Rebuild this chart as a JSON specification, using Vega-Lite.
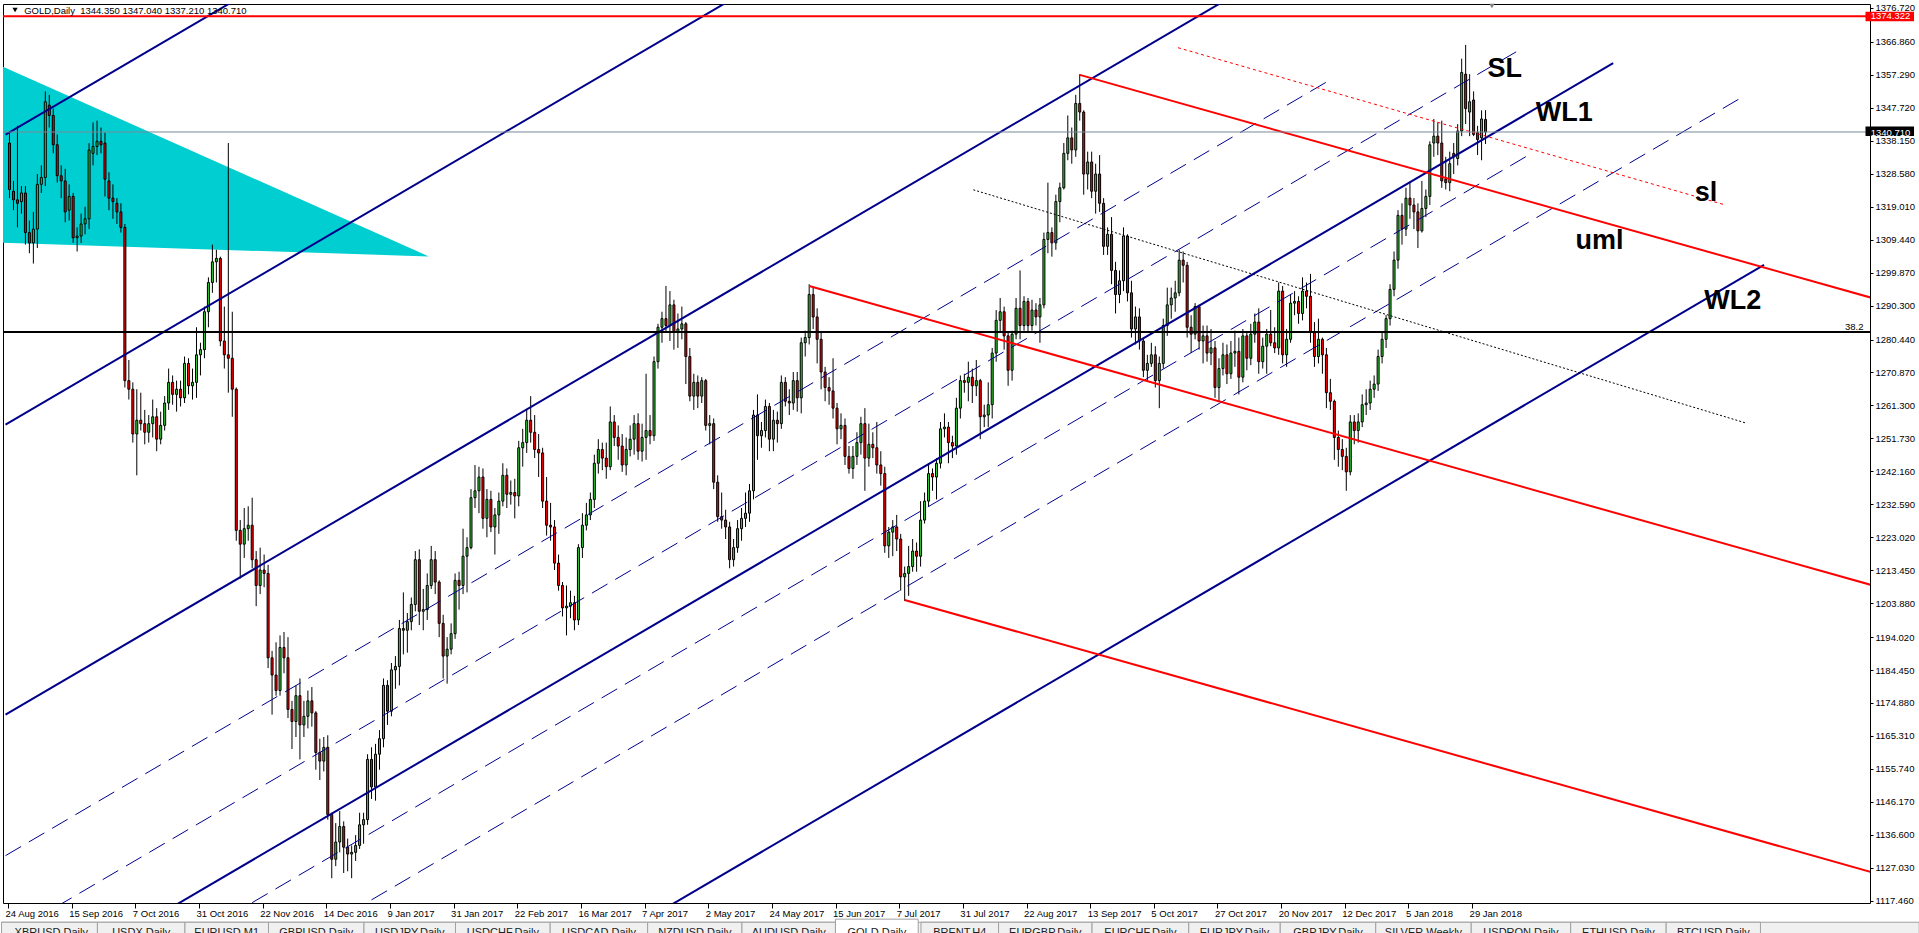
{
  "$schema": "https://vega.github.io/schema/vega-lite/v6.json",
  "width": 1867,
  "height": 899,
  "autosize": "none",
  "padding": {"left": 3, "top": 4, "right": 49, "bottom": 30},
  "background": "white",
  "config": {"view": {"stroke": "black", "strokeWidth": 1}, "font": "Liberation Sans"},
  "datasets": {
    "band": [{"i": -2, "i2": 480, "p": 1111.2, "p2": 1095}],
    "tabs": [
      {"n": "XBRUSD,Daily", "i": -2, "i2": 22.1, "p": 1111.2, "p2": 1095, "act": 0},
      {"n": "USDX,Daily", "i": 22.1, "i2": 44.1, "p": 1111.2, "p2": 1095, "act": 0},
      {"n": "EURUSD,M1", "i": 44.1, "i2": 65.1, "p": 1111.2, "p2": 1095, "act": 0},
      {"n": "GBPUSD,Daily", "i": 65.1, "i2": 89.1, "p": 1111.2, "p2": 1095, "act": 0},
      {"n": "USDJPY,Daily", "i": 89.1, "i2": 112.1, "p": 1111.2, "p2": 1095, "act": 0},
      {"n": "USDCHF,Daily", "i": 112.1, "i2": 135.9, "p": 1111.2, "p2": 1095, "act": 0},
      {"n": "USDCAD,Daily", "i": 135.9, "i2": 160.4, "p": 1111.2, "p2": 1095, "act": 0},
      {"n": "NZDUSD,Daily", "i": 160.4, "i2": 184.1, "p": 1111.2, "p2": 1095, "act": 0},
      {"n": "AUDUSD,Daily", "i": 184.1, "i2": 207.6, "p": 1111.2, "p2": 1095, "act": 0},
      {"n": "GOLD,Daily", "i": 207.6, "i2": 228.4, "p": 1112.1, "p2": 1095, "act": 1},
      {"n": "BRENT,H4", "i": 229.1, "i2": 248.6, "p": 1111.2, "p2": 1095, "act": 0},
      {"n": "EURGBP,Daily", "i": 248.6, "i2": 272.1, "p": 1111.2, "p2": 1095, "act": 0},
      {"n": "EURCHF,Daily", "i": 272.1, "i2": 296.4, "p": 1111.2, "p2": 1095, "act": 0},
      {"n": "EURJPY,Daily", "i": 296.4, "i2": 319.4, "p": 1111.2, "p2": 1095, "act": 0},
      {"n": "GBPJPY,Daily", "i": 319.4, "i2": 343.4, "p": 1111.2, "p2": 1095, "act": 0},
      {"n": "SILVER,Weekly", "i": 343.4, "i2": 367.4, "p": 1111.2, "p2": 1095, "act": 0},
      {"n": "USDRON,Daily", "i": 367.4, "i2": 392.4, "p": 1111.2, "p2": 1095, "act": 0},
      {"n": "ETHUSD,Daily", "i": 392.4, "i2": 416.4, "p": 1111.2, "p2": 1095, "act": 0},
      {"n": "BTCUSD,Daily", "i": 416.4, "i2": 440.1, "p": 1111.2, "p2": 1095, "act": 0}
    ],
    "tabnames": [
      {"n": "XBRUSD,Daily", "i": 10.5, "p": 1109.8, "act": 0},
      {"n": "USDX,Daily", "i": 33.1, "p": 1109.8, "act": 0},
      {"n": "EURUSD,M1", "i": 54.6, "p": 1109.8, "act": 0},
      {"n": "GBPUSD,Daily", "i": 77.1, "p": 1109.8, "act": 0},
      {"n": "USDJPY,Daily", "i": 100.6, "p": 1109.8, "act": 0},
      {"n": "USDCHF,Daily", "i": 124.0, "p": 1109.8, "act": 0},
      {"n": "USDCAD,Daily", "i": 148.15, "p": 1109.8, "act": 0},
      {"n": "NZDUSD,Daily", "i": 172.25, "p": 1109.8, "act": 0},
      {"n": "AUDUSD,Daily", "i": 195.85, "p": 1109.8, "act": 0},
      {"n": "GOLD,Daily", "i": 218.0, "p": 1109.8, "act": 1},
      {"n": "BRENT,H4", "i": 238.85, "p": 1109.8, "act": 0},
      {"n": "EURGBP,Daily", "i": 260.35, "p": 1109.8, "act": 0},
      {"n": "EURCHF,Daily", "i": 284.25, "p": 1109.8, "act": 0},
      {"n": "EURJPY,Daily", "i": 307.9, "p": 1109.8, "act": 0},
      {"n": "GBPJPY,Daily", "i": 331.4, "p": 1109.8, "act": 0},
      {"n": "SILVER,Weekly", "i": 355.4, "p": 1109.8, "act": 0},
      {"n": "USDRON,Daily", "i": 379.9, "p": 1109.8, "act": 0},
      {"n": "ETHUSD,Daily", "i": 404.4, "p": 1109.8, "act": 0},
      {"n": "BTCUSD,Daily", "i": 428.25, "p": 1109.8, "act": 0}
    ],
    "zone": [
      {"i": -2, "p": 1359.85, "p2": 1308.55},
      {"i": 105.4, "p": 1304.57, "p2": 1304.57}
    ],
    "candles": [
      {"i":0,"o":1337.5,"h":1340.5,"l":1321.5,"c":1324.0},
      {"i":1,"o":1323.5,"h":1326.5,"l":1318.0,"c":1321.0},
      {"i":2,"o":1321.0,"h":1342.5,"l":1313.0,"c":1320.0},
      {"i":3,"o":1320.5,"h":1325.0,"l":1317.0,"c":1323.0},
      {"i":4,"o":1323.0,"h":1325.0,"l":1308.0,"c":1311.5},
      {"i":5,"o":1311.5,"h":1315.0,"l":1305.5,"c":1308.5},
      {"i":6,"o":1308.5,"h":1317.5,"l":1302.5,"c":1312.5},
      {"i":7,"o":1312.5,"h":1328.5,"l":1307.0,"c":1325.5},
      {"i":8,"o":1325.5,"h":1331.0,"l":1323.0,"c":1327.5},
      {"i":9,"o":1327.5,"h":1352.5,"l":1325.0,"c":1349.5},
      {"i":10,"o":1348.5,"h":1351.5,"l":1342.0,"c":1345.5},
      {"i":11,"o":1345.5,"h":1347.5,"l":1334.5,"c":1337.0},
      {"i":12,"o":1337.0,"h":1340.0,"l":1326.0,"c":1328.0},
      {"i":13,"o":1328.0,"h":1331.0,"l":1321.5,"c":1326.5},
      {"i":14,"o":1326.5,"h":1330.0,"l":1314.5,"c":1317.5},
      {"i":15,"o":1318.0,"h":1325.5,"l":1315.0,"c":1322.0},
      {"i":16,"o":1322.0,"h":1323.0,"l":1308.5,"c":1310.0},
      {"i":17,"o":1310.0,"h":1313.0,"l":1306.0,"c":1310.5},
      {"i":18,"o":1310.5,"h":1317.0,"l":1308.5,"c":1314.0},
      {"i":19,"o":1314.0,"h":1319.0,"l":1311.0,"c":1315.5},
      {"i":20,"o":1315.5,"h":1337.5,"l":1312.5,"c":1335.5},
      {"i":21,"o":1334.5,"h":1343.5,"l":1331.0,"c":1336.5},
      {"i":22,"o":1336.5,"h":1344.0,"l":1334.0,"c":1338.0},
      {"i":23,"o":1338.0,"h":1342.0,"l":1334.5,"c":1337.0},
      {"i":24,"o":1337.5,"h":1340.5,"l":1322.0,"c":1327.0},
      {"i":25,"o":1326.5,"h":1329.0,"l":1318.0,"c":1321.5},
      {"i":26,"o":1321.5,"h":1325.5,"l":1315.5,"c":1320.5},
      {"i":27,"o":1320.0,"h":1321.5,"l":1314.0,"c":1317.5},
      {"i":28,"o":1317.5,"h":1320.0,"l":1311.5,"c":1313.0},
      {"i":29,"o":1313.0,"h":1314.0,"l":1266.5,"c":1268.5},
      {"i":30,"o":1268.5,"h":1274.5,"l":1263.0,"c":1266.0},
      {"i":31,"o":1266.0,"h":1268.0,"l":1250.5,"c":1253.0},
      {"i":32,"o":1253.0,"h":1266.0,"l":1241.0,"c":1257.0},
      {"i":33,"o":1257.0,"h":1265.0,"l":1254.0,"c":1256.0},
      {"i":34,"o":1256.0,"h":1260.0,"l":1250.0,"c":1253.5},
      {"i":35,"o":1253.5,"h":1258.5,"l":1250.5,"c":1256.0},
      {"i":36,"o":1256.0,"h":1263.0,"l":1252.0,"c":1258.0},
      {"i":37,"o":1258.0,"h":1260.5,"l":1248.0,"c":1251.5},
      {"i":38,"o":1251.5,"h":1259.5,"l":1250.0,"c":1255.5},
      {"i":39,"o":1255.5,"h":1264.0,"l":1254.0,"c":1262.0},
      {"i":40,"o":1262.0,"h":1272.0,"l":1260.0,"c":1268.0},
      {"i":41,"o":1268.0,"h":1270.0,"l":1261.5,"c":1264.5},
      {"i":42,"o":1264.5,"h":1268.5,"l":1259.5,"c":1266.0},
      {"i":43,"o":1266.0,"h":1268.5,"l":1261.0,"c":1263.5},
      {"i":44,"o":1263.5,"h":1275.5,"l":1262.0,"c":1273.5},
      {"i":45,"o":1273.5,"h":1275.0,"l":1264.5,"c":1267.0},
      {"i":46,"o":1267.0,"h":1272.0,"l":1263.0,"c":1268.0},
      {"i":47,"o":1268.0,"h":1284.0,"l":1263.5,"c":1276.0},
      {"i":48,"o":1276.0,"h":1279.5,"l":1270.0,"c":1277.5},
      {"i":49,"o":1277.5,"h":1290.0,"l":1275.0,"c":1288.5},
      {"i":50,"o":1288.5,"h":1298.5,"l":1284.0,"c":1297.0},
      {"i":51,"o":1297.0,"h":1308.0,"l":1294.0,"c":1303.0},
      {"i":52,"o":1303.0,"h":1306.5,"l":1297.0,"c":1304.0},
      {"i":53,"o":1304.0,"h":1304.5,"l":1278.5,"c":1280.0},
      {"i":54,"o":1280.0,"h":1290.0,"l":1272.0,"c":1276.0},
      {"i":55,"o":1276.0,"h":1337.5,"l":1265.0,"c":1275.0},
      {"i":56,"o":1275.0,"h":1288.5,"l":1258.0,"c":1266.0},
      {"i":57,"o":1266.0,"h":1266.5,"l":1222.0,"c":1225.0},
      {"i":58,"o":1225.0,"h":1228.0,"l":1211.0,"c":1221.0},
      {"i":59,"o":1221.0,"h":1231.5,"l":1217.0,"c":1225.5},
      {"i":60,"o":1225.5,"h":1232.0,"l":1222.0,"c":1226.5},
      {"i":61,"o":1226.5,"h":1234.5,"l":1214.0,"c":1216.5},
      {"i":62,"o":1216.5,"h":1219.0,"l":1203.0,"c":1209.0},
      {"i":63,"o":1209.0,"h":1220.0,"l":1206.5,"c":1213.5},
      {"i":64,"o":1213.5,"h":1218.0,"l":1208.5,"c":1212.5},
      {"i":65,"o":1212.5,"h":1215.0,"l":1185.0,"c":1188.0},
      {"i":66,"o":1188.0,"h":1190.0,"l":1171.5,"c":1183.0},
      {"i":67,"o":1183.0,"h":1192.5,"l":1177.0,"c":1178.5},
      {"i":68,"o":1178.5,"h":1194.5,"l":1177.0,"c":1191.0},
      {"i":69,"o":1191.0,"h":1195.5,"l":1183.5,"c":1188.0},
      {"i":70,"o":1188.0,"h":1194.0,"l":1170.5,"c":1173.0},
      {"i":71,"o":1173.0,"h":1175.5,"l":1161.5,"c":1169.5},
      {"i":72,"o":1169.5,"h":1180.0,"l":1165.0,"c":1177.0},
      {"i":73,"o":1177.0,"h":1182.0,"l":1158.5,"c":1168.5},
      {"i":74,"o":1168.5,"h":1175.5,"l":1165.0,"c":1171.0},
      {"i":75,"o":1171.0,"h":1178.5,"l":1167.5,"c":1175.5},
      {"i":76,"o":1175.5,"h":1179.5,"l":1168.0,"c":1172.0},
      {"i":77,"o":1172.0,"h":1172.5,"l":1155.5,"c":1160.5},
      {"i":78,"o":1160.5,"h":1164.5,"l":1152.5,"c":1158.0},
      {"i":79,"o":1158.0,"h":1165.0,"l":1155.0,"c":1162.0},
      {"i":80,"o":1162.0,"h":1165.5,"l":1141.0,"c":1142.5},
      {"i":81,"o":1142.5,"h":1143.0,"l":1124.0,"c":1129.5},
      {"i":82,"o":1129.5,"h":1140.0,"l":1127.5,"c":1134.5},
      {"i":83,"o":1134.5,"h":1143.5,"l":1131.5,"c":1139.0},
      {"i":84,"o":1139.0,"h":1140.5,"l":1125.5,"c":1133.0},
      {"i":85,"o":1133.0,"h":1135.5,"l":1126.0,"c":1131.0},
      {"i":86,"o":1131.0,"h":1133.5,"l":1124.0,"c":1131.5},
      {"i":87,"o":1131.5,"h":1136.5,"l":1129.0,"c":1133.5},
      {"i":88,"o":1133.5,"h":1143.0,"l":1132.5,"c":1139.5},
      {"i":89,"o":1139.5,"h":1143.0,"l":1134.0,"c":1141.0},
      {"i":90,"o":1141.0,"h":1160.0,"l":1139.5,"c":1158.5},
      {"i":91,"o":1158.5,"h":1162.0,"l":1147.0,"c":1150.5},
      {"i":92,"o":1150.5,"h":1163.0,"l":1146.5,"c":1160.0},
      {"i":93,"o":1160.0,"h":1167.0,"l":1155.5,"c":1164.5},
      {"i":94,"o":1164.5,"h":1182.0,"l":1162.0,"c":1180.0},
      {"i":95,"o":1180.0,"h":1181.5,"l":1168.5,"c":1172.5},
      {"i":96,"o":1172.5,"h":1186.5,"l":1171.0,"c":1184.5},
      {"i":97,"o":1184.5,"h":1188.5,"l":1179.0,"c":1185.5},
      {"i":98,"o":1185.5,"h":1199.0,"l":1180.0,"c":1196.5},
      {"i":99,"o":1196.5,"h":1207.0,"l":1189.0,"c":1196.0},
      {"i":100,"o":1196.0,"h":1201.0,"l":1189.5,"c":1198.5},
      {"i":101,"o":1198.5,"h":1205.5,"l":1196.0,"c":1203.5},
      {"i":102,"o":1203.5,"h":1219.0,"l":1201.5,"c":1216.5},
      {"i":103,"o":1216.5,"h":1219.5,"l":1197.5,"c":1201.5},
      {"i":104,"o":1201.5,"h":1208.0,"l":1196.0,"c":1202.0},
      {"i":105,"o":1202.0,"h":1212.5,"l":1199.0,"c":1209.0},
      {"i":106,"o":1209.0,"h":1220.5,"l":1208.0,"c":1216.5},
      {"i":107,"o":1216.5,"h":1219.0,"l":1206.5,"c":1210.0},
      {"i":108,"o":1210.0,"h":1210.5,"l":1194.0,"c":1198.0},
      {"i":109,"o":1198.0,"h":1200.5,"l":1182.0,"c":1188.5},
      {"i":110,"o":1188.5,"h":1194.0,"l":1180.5,"c":1190.5},
      {"i":111,"o":1190.5,"h":1198.0,"l":1189.0,"c":1195.0},
      {"i":112,"o":1195.0,"h":1212.5,"l":1193.5,"c":1210.5},
      {"i":113,"o":1210.5,"h":1213.0,"l":1202.0,"c":1209.0},
      {"i":114,"o":1209.0,"h":1225.5,"l":1206.5,"c":1217.5},
      {"i":115,"o":1217.5,"h":1223.0,"l":1207.0,"c":1220.0},
      {"i":116,"o":1220.0,"h":1237.0,"l":1219.5,"c":1234.5},
      {"i":117,"o":1234.5,"h":1244.0,"l":1231.5,"c":1236.5},
      {"i":118,"o":1236.5,"h":1243.5,"l":1230.0,"c":1240.5},
      {"i":119,"o":1240.5,"h":1243.0,"l":1225.5,"c":1228.5},
      {"i":120,"o":1228.5,"h":1237.0,"l":1223.0,"c":1234.0},
      {"i":121,"o":1234.0,"h":1236.5,"l":1224.5,"c":1226.0},
      {"i":122,"o":1226.0,"h":1231.5,"l":1218.0,"c":1229.5},
      {"i":123,"o":1229.5,"h":1236.0,"l":1224.0,"c":1233.5},
      {"i":124,"o":1233.5,"h":1244.5,"l":1232.0,"c":1241.0},
      {"i":125,"o":1241.0,"h":1243.0,"l":1231.5,"c":1235.5},
      {"i":126,"o":1235.5,"h":1239.5,"l":1232.5,"c":1236.0},
      {"i":127,"o":1236.0,"h":1240.0,"l":1228.5,"c":1235.0},
      {"i":128,"o":1235.0,"h":1251.0,"l":1232.0,"c":1249.0},
      {"i":129,"o":1249.0,"h":1254.5,"l":1243.5,"c":1250.5},
      {"i":130,"o":1250.5,"h":1260.0,"l":1247.5,"c":1257.0},
      {"i":131,"o":1257.0,"h":1264.0,"l":1250.5,"c":1253.5},
      {"i":132,"o":1253.5,"h":1258.5,"l":1246.0,"c":1248.5},
      {"i":133,"o":1248.5,"h":1253.0,"l":1240.5,"c":1247.5},
      {"i":134,"o":1247.5,"h":1249.0,"l":1231.5,"c":1233.5},
      {"i":135,"o":1233.5,"h":1240.5,"l":1223.5,"c":1226.5},
      {"i":136,"o":1226.5,"h":1233.0,"l":1222.0,"c":1226.0},
      {"i":137,"o":1226.0,"h":1228.0,"l":1213.5,"c":1215.5},
      {"i":138,"o":1215.5,"h":1218.0,"l":1207.5,"c":1209.0},
      {"i":139,"o":1209.0,"h":1210.0,"l":1200.0,"c":1202.5},
      {"i":140,"o":1202.5,"h":1209.0,"l":1194.5,"c":1203.0},
      {"i":141,"o":1203.0,"h":1207.5,"l":1199.5,"c":1204.0},
      {"i":142,"o":1204.0,"h":1206.0,"l":1196.0,"c":1199.0},
      {"i":143,"o":1199.0,"h":1221.0,"l":1197.5,"c":1220.0},
      {"i":144,"o":1220.0,"h":1230.0,"l":1217.0,"c":1226.5},
      {"i":145,"o":1226.5,"h":1233.0,"l":1225.0,"c":1229.5},
      {"i":146,"o":1229.5,"h":1236.0,"l":1228.0,"c":1234.0},
      {"i":147,"o":1234.0,"h":1247.0,"l":1231.5,"c":1244.5},
      {"i":148,"o":1244.5,"h":1251.5,"l":1241.5,"c":1248.5},
      {"i":149,"o":1248.5,"h":1250.5,"l":1242.5,"c":1246.0},
      {"i":150,"o":1246.0,"h":1250.5,"l":1240.0,"c":1243.5},
      {"i":151,"o":1243.5,"h":1261.0,"l":1242.5,"c":1256.5},
      {"i":152,"o":1256.5,"h":1258.5,"l":1249.5,"c":1252.0},
      {"i":153,"o":1252.0,"h":1255.5,"l":1245.5,"c":1249.5},
      {"i":154,"o":1249.5,"h":1253.0,"l":1242.0,"c":1244.0},
      {"i":155,"o":1244.0,"h":1252.0,"l":1241.0,"c":1248.5},
      {"i":156,"o":1248.5,"h":1255.5,"l":1246.5,"c":1251.5},
      {"i":157,"o":1251.5,"h":1258.5,"l":1247.0,"c":1256.0},
      {"i":158,"o":1256.0,"h":1259.0,"l":1245.5,"c":1248.0},
      {"i":159,"o":1248.0,"h":1256.0,"l":1245.0,"c":1252.0},
      {"i":160,"o":1252.0,"h":1270.5,"l":1245.5,"c":1254.0},
      {"i":161,"o":1254.0,"h":1258.5,"l":1250.0,"c":1252.5},
      {"i":162,"o":1252.5,"h":1275.5,"l":1251.0,"c":1274.0},
      {"i":163,"o":1274.0,"h":1285.0,"l":1272.0,"c":1284.0},
      {"i":164,"o":1284.0,"h":1288.5,"l":1279.5,"c":1286.5},
      {"i":165,"o":1286.5,"h":1296.0,"l":1282.5,"c":1284.5},
      {"i":166,"o":1284.5,"h":1294.5,"l":1280.0,"c":1290.5},
      {"i":167,"o":1290.5,"h":1292.0,"l":1277.5,"c":1282.5},
      {"i":168,"o":1282.5,"h":1288.0,"l":1278.0,"c":1283.5},
      {"i":169,"o":1283.5,"h":1290.0,"l":1280.5,"c":1285.0},
      {"i":170,"o":1285.0,"h":1285.5,"l":1267.5,"c":1275.5},
      {"i":171,"o":1275.5,"h":1278.0,"l":1262.5,"c":1264.0},
      {"i":172,"o":1264.0,"h":1270.5,"l":1260.0,"c":1268.0},
      {"i":173,"o":1268.0,"h":1270.0,"l":1260.5,"c":1264.0},
      {"i":174,"o":1264.0,"h":1269.5,"l":1262.0,"c":1268.5},
      {"i":175,"o":1268.5,"h":1269.0,"l":1254.0,"c":1255.5},
      {"i":176,"o":1255.5,"h":1258.5,"l":1250.0,"c":1256.0},
      {"i":177,"o":1256.0,"h":1257.5,"l":1237.0,"c":1239.0},
      {"i":178,"o":1239.0,"h":1241.0,"l":1227.5,"c":1229.0},
      {"i":179,"o":1229.0,"h":1236.0,"l":1225.5,"c":1228.0},
      {"i":180,"o":1228.0,"h":1231.0,"l":1222.5,"c":1226.0},
      {"i":181,"o":1226.0,"h":1227.5,"l":1214.0,"c":1216.5},
      {"i":182,"o":1216.5,"h":1222.5,"l":1214.5,"c":1220.0},
      {"i":183,"o":1220.0,"h":1228.0,"l":1218.5,"c":1225.5},
      {"i":184,"o":1225.5,"h":1231.5,"l":1222.0,"c":1228.5},
      {"i":185,"o":1228.5,"h":1236.0,"l":1226.0,"c":1230.0},
      {"i":186,"o":1230.0,"h":1238.5,"l":1227.5,"c":1236.5},
      {"i":187,"o":1236.5,"h":1260.0,"l":1234.0,"c":1258.5},
      {"i":188,"o":1258.5,"h":1264.5,"l":1245.5,"c":1252.5},
      {"i":189,"o":1252.5,"h":1256.5,"l":1249.0,"c":1254.0},
      {"i":190,"o":1254.0,"h":1263.0,"l":1252.0,"c":1261.0},
      {"i":191,"o":1261.0,"h":1262.0,"l":1248.0,"c":1251.5},
      {"i":192,"o":1251.5,"h":1260.0,"l":1248.0,"c":1257.0},
      {"i":193,"o":1257.0,"h":1259.5,"l":1250.5,"c":1256.0},
      {"i":194,"o":1256.0,"h":1270.0,"l":1254.5,"c":1268.0},
      {"i":195,"o":1268.0,"h":1269.5,"l":1261.0,"c":1262.5},
      {"i":196,"o":1262.5,"h":1266.0,"l":1258.5,"c":1262.0},
      {"i":197,"o":1262.0,"h":1271.0,"l":1260.0,"c":1268.5},
      {"i":198,"o":1268.5,"h":1271.0,"l":1259.5,"c":1263.5},
      {"i":199,"o":1263.5,"h":1281.0,"l":1259.0,"c":1279.5},
      {"i":200,"o":1279.5,"h":1283.0,"l":1275.5,"c":1281.0},
      {"i":201,"o":1281.0,"h":1296.5,"l":1279.0,"c":1293.5},
      {"i":202,"o":1293.5,"h":1295.5,"l":1283.5,"c":1287.0},
      {"i":203,"o":1287.0,"h":1289.5,"l":1273.5,"c":1280.5},
      {"i":204,"o":1280.5,"h":1282.5,"l":1266.0,"c":1271.0},
      {"i":205,"o":1271.0,"h":1272.5,"l":1262.5,"c":1266.5},
      {"i":206,"o":1266.5,"h":1269.5,"l":1261.5,"c":1265.5},
      {"i":207,"o":1265.5,"h":1275.0,"l":1257.5,"c":1260.5},
      {"i":208,"o":1260.5,"h":1262.0,"l":1250.0,"c":1254.5},
      {"i":209,"o":1254.5,"h":1259.0,"l":1251.5,"c":1255.5},
      {"i":210,"o":1255.5,"h":1257.5,"l":1244.0,"c":1246.5},
      {"i":211,"o":1246.5,"h":1249.5,"l":1241.5,"c":1243.0},
      {"i":212,"o":1243.0,"h":1249.5,"l":1240.0,"c":1246.5},
      {"i":213,"o":1246.5,"h":1253.5,"l":1244.0,"c":1250.5},
      {"i":214,"o":1250.5,"h":1258.0,"l":1247.0,"c":1256.0},
      {"i":215,"o":1256.0,"h":1260.5,"l":1236.5,"c":1246.0},
      {"i":216,"o":1246.0,"h":1256.0,"l":1243.5,"c":1250.0},
      {"i":217,"o":1250.0,"h":1253.5,"l":1246.0,"c":1249.0},
      {"i":218,"o":1249.0,"h":1256.5,"l":1241.5,"c":1244.0},
      {"i":219,"o":1244.0,"h":1248.0,"l":1238.0,"c":1241.5},
      {"i":220,"o":1241.5,"h":1243.5,"l":1218.5,"c":1220.5},
      {"i":221,"o":1220.5,"h":1226.0,"l":1217.0,"c":1224.5},
      {"i":222,"o":1224.5,"h":1228.0,"l":1217.5,"c":1226.0},
      {"i":223,"o":1226.0,"h":1229.5,"l":1219.0,"c":1222.5},
      {"i":224,"o":1222.5,"h":1224.0,"l":1207.5,"c":1211.5},
      {"i":225,"o":1211.5,"h":1214.5,"l":1204.5,"c":1212.5},
      {"i":226,"o":1212.5,"h":1220.5,"l":1206.0,"c":1214.5},
      {"i":227,"o":1214.5,"h":1222.5,"l":1213.0,"c":1219.0},
      {"i":228,"o":1219.0,"h":1221.5,"l":1213.0,"c":1217.5},
      {"i":229,"o":1217.5,"h":1233.5,"l":1214.5,"c":1228.0},
      {"i":230,"o":1228.0,"h":1236.0,"l":1227.0,"c":1233.5},
      {"i":231,"o":1233.5,"h":1244.5,"l":1232.0,"c":1241.5},
      {"i":232,"o":1241.5,"h":1243.0,"l":1236.5,"c":1240.5},
      {"i":233,"o":1240.5,"h":1246.0,"l":1234.0,"c":1244.5},
      {"i":234,"o":1244.5,"h":1256.5,"l":1243.0,"c":1254.5},
      {"i":235,"o":1254.5,"h":1259.0,"l":1252.0,"c":1255.0},
      {"i":236,"o":1255.0,"h":1256.5,"l":1244.5,"c":1250.5},
      {"i":237,"o":1250.5,"h":1252.5,"l":1246.0,"c":1249.5},
      {"i":238,"o":1249.5,"h":1263.5,"l":1247.0,"c":1260.5},
      {"i":239,"o":1260.5,"h":1270.0,"l":1257.5,"c":1268.5},
      {"i":240,"o":1268.5,"h":1270.5,"l":1265.0,"c":1268.0},
      {"i":241,"o":1268.0,"h":1274.0,"l":1262.5,"c":1269.5},
      {"i":242,"o":1269.5,"h":1272.0,"l":1262.0,"c":1267.0},
      {"i":243,"o":1267.0,"h":1274.5,"l":1264.0,"c":1268.5},
      {"i":244,"o":1268.5,"h":1269.0,"l":1251.5,"c":1258.0},
      {"i":245,"o":1258.0,"h":1261.5,"l":1255.0,"c":1258.5},
      {"i":246,"o":1258.5,"h":1268.0,"l":1255.0,"c":1261.5},
      {"i":247,"o":1261.5,"h":1278.0,"l":1257.5,"c":1276.5},
      {"i":248,"o":1276.5,"h":1289.0,"l":1274.0,"c":1286.0},
      {"i":249,"o":1286.0,"h":1292.5,"l":1282.5,"c":1288.5},
      {"i":250,"o":1288.5,"h":1290.0,"l":1277.5,"c":1281.5},
      {"i":251,"o":1281.5,"h":1282.5,"l":1267.0,"c":1271.5},
      {"i":252,"o":1271.5,"h":1283.0,"l":1268.5,"c":1282.0},
      {"i":253,"o":1282.0,"h":1292.5,"l":1280.5,"c":1289.5},
      {"i":254,"o":1289.5,"h":1300.5,"l":1280.5,"c":1284.5},
      {"i":255,"o":1284.5,"h":1293.0,"l":1283.0,"c":1291.5},
      {"i":256,"o":1291.5,"h":1292.5,"l":1282.5,"c":1284.5},
      {"i":257,"o":1284.5,"h":1292.0,"l":1283.0,"c":1289.0},
      {"i":258,"o":1289.0,"h":1291.0,"l":1284.5,"c":1287.0},
      {"i":259,"o":1287.0,"h":1292.5,"l":1279.5,"c":1290.5},
      {"i":260,"o":1290.5,"h":1311.5,"l":1289.5,"c":1309.5},
      {"i":261,"o":1309.5,"h":1326.0,"l":1305.5,"c":1311.5},
      {"i":262,"o":1311.5,"h":1313.0,"l":1304.5,"c":1308.5},
      {"i":263,"o":1308.5,"h":1322.5,"l":1306.5,"c":1320.5},
      {"i":264,"o":1320.5,"h":1326.0,"l":1314.5,"c":1324.5},
      {"i":265,"o":1324.5,"h":1337.5,"l":1324.0,"c":1334.5},
      {"i":266,"o":1334.5,"h":1345.5,"l":1332.5,"c":1339.0},
      {"i":267,"o":1339.0,"h":1342.0,"l":1331.5,"c":1335.5},
      {"i":268,"o":1335.5,"h":1351.5,"l":1333.5,"c":1349.0},
      {"i":269,"o":1349.0,"h":1357.5,"l":1344.0,"c":1346.5},
      {"i":270,"o":1346.5,"h":1347.0,"l":1322.5,"c":1328.5},
      {"i":271,"o":1328.5,"h":1335.0,"l":1324.0,"c":1332.0},
      {"i":272,"o":1332.0,"h":1335.0,"l":1321.5,"c":1323.5},
      {"i":273,"o":1323.5,"h":1331.5,"l":1317.0,"c":1328.5},
      {"i":274,"o":1328.5,"h":1334.0,"l":1317.5,"c":1320.0},
      {"i":275,"o":1320.0,"h":1321.5,"l":1305.0,"c":1307.5},
      {"i":276,"o":1307.5,"h":1313.0,"l":1305.0,"c":1311.0},
      {"i":277,"o":1311.0,"h":1316.0,"l":1296.5,"c":1300.5},
      {"i":278,"o":1300.5,"h":1303.0,"l":1288.0,"c":1293.5},
      {"i":279,"o":1293.5,"h":1300.5,"l":1291.0,"c":1297.5},
      {"i":280,"o":1297.5,"h":1313.0,"l":1294.5,"c":1310.5},
      {"i":281,"o":1310.5,"h":1311.0,"l":1291.5,"c":1294.0},
      {"i":282,"o":1294.0,"h":1297.5,"l":1281.0,"c":1283.5},
      {"i":283,"o":1283.5,"h":1290.0,"l":1279.0,"c":1287.0},
      {"i":284,"o":1287.0,"h":1289.5,"l":1277.5,"c":1280.0},
      {"i":285,"o":1280.0,"h":1281.0,"l":1269.5,"c":1271.5},
      {"i":286,"o":1271.5,"h":1276.0,"l":1268.5,"c":1273.5},
      {"i":287,"o":1273.5,"h":1279.5,"l":1272.5,"c":1276.0},
      {"i":288,"o":1276.0,"h":1278.5,"l":1266.5,"c":1268.5},
      {"i":289,"o":1268.5,"h":1275.5,"l":1260.5,"c":1273.5},
      {"i":290,"o":1273.5,"h":1286.5,"l":1272.0,"c":1284.5},
      {"i":291,"o":1284.5,"h":1295.5,"l":1281.5,"c":1290.5},
      {"i":292,"o":1290.5,"h":1295.5,"l":1286.5,"c":1292.5},
      {"i":293,"o":1292.5,"h":1297.5,"l":1288.5,"c":1294.0},
      {"i":294,"o":1294.0,"h":1306.5,"l":1293.0,"c":1303.5},
      {"i":295,"o":1303.5,"h":1306.0,"l":1297.0,"c":1302.0},
      {"i":296,"o":1302.0,"h":1303.0,"l":1281.0,"c":1284.0},
      {"i":297,"o":1284.0,"h":1287.5,"l":1276.5,"c":1282.0},
      {"i":298,"o":1282.0,"h":1291.0,"l":1280.5,"c":1290.0},
      {"i":299,"o":1290.0,"h":1290.5,"l":1277.5,"c":1280.0},
      {"i":300,"o":1280.0,"h":1284.5,"l":1273.5,"c":1281.5},
      {"i":301,"o":1281.5,"h":1284.5,"l":1274.0,"c":1276.5},
      {"i":302,"o":1276.5,"h":1283.5,"l":1273.0,"c":1278.0},
      {"i":303,"o":1278.0,"h":1280.0,"l":1263.5,"c":1266.5},
      {"i":304,"o":1266.5,"h":1275.0,"l":1262.5,"c":1272.0},
      {"i":305,"o":1272.0,"h":1279.5,"l":1270.0,"c":1276.0},
      {"i":306,"o":1276.0,"h":1279.0,"l":1267.5,"c":1270.5},
      {"i":307,"o":1270.5,"h":1280.0,"l":1269.0,"c":1276.5},
      {"i":308,"o":1276.5,"h":1283.0,"l":1272.5,"c":1277.0},
      {"i":309,"o":1277.0,"h":1281.0,"l":1264.5,"c":1269.5},
      {"i":310,"o":1269.5,"h":1283.5,"l":1268.0,"c":1281.5},
      {"i":311,"o":1281.5,"h":1282.5,"l":1271.5,"c":1275.0},
      {"i":312,"o":1275.0,"h":1285.0,"l":1273.0,"c":1282.0},
      {"i":313,"o":1282.0,"h":1288.0,"l":1279.5,"c":1285.5},
      {"i":314,"o":1285.5,"h":1289.5,"l":1270.5,"c":1274.0},
      {"i":315,"o":1274.0,"h":1281.0,"l":1272.0,"c":1278.5},
      {"i":316,"o":1278.5,"h":1283.5,"l":1270.5,"c":1282.0},
      {"i":317,"o":1282.0,"h":1289.0,"l":1278.5,"c":1279.5},
      {"i":318,"o":1279.5,"h":1284.0,"l":1276.5,"c":1278.0},
      {"i":319,"o":1278.0,"h":1297.0,"l":1276.0,"c":1294.5},
      {"i":320,"o":1294.5,"h":1296.0,"l":1273.5,"c":1276.0},
      {"i":321,"o":1276.0,"h":1283.5,"l":1272.5,"c":1280.5},
      {"i":322,"o":1280.5,"h":1293.5,"l":1279.5,"c":1291.0},
      {"i":323,"o":1291.0,"h":1294.5,"l":1287.5,"c":1291.5},
      {"i":324,"o":1291.5,"h":1293.0,"l":1285.0,"c":1288.0},
      {"i":325,"o":1288.0,"h":1298.5,"l":1286.0,"c":1294.5},
      {"i":326,"o":1294.5,"h":1297.0,"l":1289.5,"c":1293.0},
      {"i":327,"o":1293.0,"h":1299.5,"l":1279.5,"c":1282.5},
      {"i":328,"o":1282.5,"h":1285.5,"l":1272.5,"c":1275.5},
      {"i":329,"o":1275.5,"h":1286.5,"l":1273.5,"c":1280.5},
      {"i":330,"o":1280.5,"h":1281.0,"l":1270.5,"c":1276.0},
      {"i":331,"o":1276.0,"h":1278.0,"l":1260.5,"c":1265.0},
      {"i":332,"o":1265.0,"h":1269.0,"l":1260.0,"c":1262.5},
      {"i":333,"o":1262.5,"h":1263.0,"l":1245.5,"c":1252.0},
      {"i":334,"o":1252.0,"h":1254.0,"l":1243.5,"c":1248.5},
      {"i":335,"o":1248.5,"h":1251.5,"l":1242.5,"c":1246.5},
      {"i":336,"o":1246.5,"h":1249.0,"l":1236.5,"c":1242.0},
      {"i":337,"o":1242.0,"h":1258.5,"l":1241.0,"c":1256.5},
      {"i":338,"o":1256.5,"h":1258.5,"l":1250.0,"c":1254.0},
      {"i":339,"o":1254.0,"h":1259.0,"l":1250.5,"c":1256.5},
      {"i":340,"o":1256.5,"h":1264.5,"l":1255.0,"c":1261.5},
      {"i":341,"o":1261.5,"h":1266.0,"l":1258.5,"c":1262.0},
      {"i":342,"o":1262.0,"h":1268.5,"l":1260.0,"c":1266.0},
      {"i":343,"o":1266.0,"h":1270.0,"l":1263.5,"c":1267.5},
      {"i":344,"o":1267.5,"h":1277.5,"l":1265.5,"c":1275.5},
      {"i":345,"o":1275.5,"h":1282.5,"l":1273.5,"c":1280.5},
      {"i":346,"o":1280.5,"h":1287.5,"l":1278.0,"c":1286.5},
      {"i":347,"o":1286.5,"h":1296.5,"l":1284.5,"c":1295.0},
      {"i":348,"o":1295.0,"h":1306.0,"l":1293.0,"c":1303.5},
      {"i":349,"o":1303.5,"h":1318.0,"l":1301.0,"c":1316.5},
      {"i":350,"o":1316.5,"h":1320.0,"l":1308.0,"c":1312.5},
      {"i":351,"o":1312.5,"h":1324.5,"l":1310.5,"c":1321.5},
      {"i":352,"o":1321.5,"h":1326.0,"l":1315.5,"c":1319.5},
      {"i":353,"o":1319.5,"h":1321.5,"l":1312.5,"c":1317.5},
      {"i":354,"o":1317.5,"h":1320.0,"l":1307.0,"c":1312.0},
      {"i":355,"o":1312.0,"h":1326.5,"l":1311.5,"c":1318.5},
      {"i":356,"o":1318.5,"h":1324.0,"l":1316.0,"c":1322.0},
      {"i":357,"o":1322.0,"h":1338.0,"l":1319.5,"c":1337.0},
      {"i":358,"o":1337.5,"h":1344.5,"l":1333.5,"c":1339.5},
      {"i":359,"o":1339.5,"h":1343.5,"l":1334.0,"c":1337.5},
      {"i":360,"o":1337.5,"h":1344.0,"l":1324.5,"c":1326.5},
      {"i":361,"o":1327.0,"h":1333.5,"l":1324.0,"c":1326.0},
      {"i":362,"o":1326.0,"h":1335.0,"l":1323.5,"c":1331.5},
      {"i":363,"o":1334.5,"h":1337.5,"l":1328.5,"c":1333.5},
      {"i":364,"o":1333.0,"h":1343.0,"l":1331.0,"c":1341.0},
      {"i":365,"o":1341.0,"h":1362.0,"l":1339.5,"c":1358.0},
      {"i":366,"o":1357.5,"h":1366.0,"l":1343.0,"c":1347.5},
      {"i":367,"o":1346.5,"h":1357.5,"l":1339.5,"c":1349.5},
      {"i":368,"o":1350.0,"h":1352.5,"l":1339.5,"c":1340.0},
      {"i":369,"o":1340.5,"h":1342.5,"l":1334.0,"c":1338.5},
      {"i":370,"o":1339.0,"h":1347.0,"l":1332.5,"c":1344.5},
      {"i":371,"o":1344.35,"h":1347.04,"l":1337.21,"c":1340.71}
    ],
    "lines": [
      {"id":"A","k":"chan","i":-1,"p":1339.94},{"id":"A","k":"chan","i":60,"p":1381.22},
      {"id":"B","k":"chan","i":-1,"p":1255.71},{"id":"B","k":"chan","i":185,"p":1381.58},
      {"id":"C","k":"chan","i":-1,"p":1171.48},{"id":"C","k":"chan","i":310,"p":1381.94},
      {"id":"D","k":"chan","i":30,"p":1108.23},{"id":"D","k":"chan","i":403.08,"p":1360.69},
      {"id":"E","k":"chan","i":150,"p":1105.21},{"id":"E","k":"chan","i":441,"p":1302.12},
      {"id":"e1","k":"par","i":-1,"p":1130.54},{"id":"e1","k":"par","i":332.75,"p":1356.39},
      {"id":"e2","k":"par","i":0,"p":1107.72},{"id":"e2","k":"par","i":379,"p":1364.19},
      {"id":"e3","k":"par","i":20,"p":1089.15},{"id":"e3","k":"par","i":382,"p":1334.12},
      {"id":"e4","k":"par","i":50,"p":1089.96},{"id":"e4","k":"par","i":436.35,"p":1351.4},
      {"id":"R1","k":"fork","i":269,"p":1357.3},{"id":"R1","k":"fork","i":470,"p":1291.91},
      {"id":"R2","k":"fork","i":201,"p":1296.0},{"id":"R2","k":"fork","i":470,"p":1208.49},
      {"id":"R3","k":"fork","i":225,"p":1204.8},{"id":"R3","k":"fork","i":470,"p":1125.1},
      {"id":"sl","k":"sl","i":293.7,"p":1365.19},{"id":"sl","k":"sl","i":431.05,"p":1319.59},
      {"id":"mid","k":"mid","i":242.25,"p":1323.92},{"id":"mid","k":"mid","i":436.2,"p":1256.27},
      {"id":"res","k":"res","i":-2,"p":1374.322},{"id":"res","k":"res","i":470,"p":1374.322},
      {"id":"fib","k":"fib","i":-2,"p":1282.6},{"id":"fib","k":"fib","i":470,"p":1282.6},
      {"id":"bid","k":"bid","i":-2,"p":1340.71},{"id":"bid","k":"bid","i":470,"p":1340.71}
    ],
    "labels": [
      {"t":"SL","i":371.5,"p":1356.6},
      {"t":"WL1","i":383.6,"p":1343.9},
      {"t":"sl","i":423.6,"p":1320.8},
      {"t":"uml","i":393.6,"p":1306.7},
      {"t":"WL2","i":426.0,"p":1289.3}
    ],
    "fiblabel": [{"t":"38.2","i":466.0,"p":1283.3}],
    "header": [{"t":"GOLD,Daily\u00a0\u00a01344.350 1347.040 1337.210 1340.710","i":3.7,"p":1374.98}],
    "tagbox": [
      {"k":"res","i":466.5,"i2":478.7,"p":1375.62,"p2":1372.88},
      {"k":"bid","i":466.5,"i2":478.7,"p":1342.3,"p2":1339.54}
    ],
    "tagtext": [
      {"t":"1374.322","i":467.8,"p":1374.25},
      {"t":"1340.710","i":467.8,"p":1340.45}
    ],
    "markers": [
      {"k":"menu","i":1.4,"p":1376.14},
      {"k":"shift","i":372.6,"p":1377.3}
    ]
  },
  "encoding": {
    "x": {
      "field": "i",
      "type": "quantitative",
      "title": null,
      "scale": {"domain": [-0.375, 466.375], "nice": false, "zero": false},
      "axis": {
        "values": [-0.375, 15.625, 31.625, 47.625, 63.625, 79.625, 95.625, 111.625, 127.625, 143.625, 159.625, 175.625, 191.625, 207.625, 223.625, 239.625, 255.625, 271.625, 287.625, 303.625, 319.625, 335.625, 351.625, 367.625],
        "labelExpr": "['24 Aug 2016','15 Sep 2016','7 Oct 2016','31 Oct 2016','22 Nov 2016','14 Dec 2016','9 Jan 2017','31 Jan 2017','22 Feb 2017','16 Mar 2017','7 Apr 2017','2 May 2017','24 May 2017','15 Jun 2017','7 Jul 2017','31 Jul 2017','22 Aug 2017','13 Sep 2017','5 Oct 2017','27 Oct 2017','20 Nov 2017','12 Dec 2017','5 Jan 2018','29 Jan 2018'][round((datum.value + 0.375) / 16)]",
        "grid": false,
        "domain": false,
        "tickSize": 5,
        "tickColor": "black",
        "labelAlign": "left",
        "labelBaseline": "top",
        "labelPadding": 0,
        "labelOffset": -3,
        "labelFont": "Liberation Sans",
        "labelFontSize": 9.5,
        "labelColor": "black",
        "labelFlush": false,
        "labelOverlap": false,
        "labelBound": false
      }
    },
    "y": {
      "field": "p",
      "type": "quantitative",
      "title": null,
      "scale": {"domain": [1116.79, 1377.88], "nice": false, "zero": false},
      "axis": {
        "orient": "right",
        "values": [1117.46, 1127.03, 1136.6, 1146.17, 1155.74, 1165.31, 1174.88, 1184.45, 1194.02, 1203.88, 1213.45, 1223.02, 1232.59, 1242.16, 1251.73, 1261.3, 1270.87, 1280.44, 1290.3, 1299.87, 1309.44, 1319.01, 1328.58, 1338.15, 1347.72, 1357.29, 1366.86, 1376.72],
        "labelExpr": "format(datum.value, '.3f')",
        "grid": false,
        "domain": false,
        "tickSize": 3,
        "tickColor": "black",
        "labelAlign": "left",
        "labelBaseline": "middle",
        "labelPadding": 2,
        "labelFont": "Liberation Sans",
        "labelFontSize": 9.5,
        "labelColor": "black",
        "labelFlush": false,
        "labelOverlap": false,
        "labelBound": false
      }
    }
  },
  "layer": [
    {
      "data": {"name": "band"},
      "mark": {"type": "rect", "fill": "#f0f0f0", "stroke": "#a0a0a0", "strokeWidth": 1},
      "encoding": {"x2": {"field": "i2"}, "y2": {"field": "p2"}}
    },
    {
      "data": {"name": "tabs"},
      "mark": {"type": "rect", "stroke": "#a0a0a0", "strokeWidth": 1},
      "encoding": {
        "x2": {"field": "i2"},
        "y2": {"field": "p2"},
        "fill": {"condition": {"test": "datum.act == 1", "value": "#ffffff"}, "value": "#f0f0f0"}
      }
    },
    {
      "data": {"name": "tabnames"},
      "mark": {"type": "text", "align": "center", "baseline": "top", "font": "Liberation Sans", "fontSize": 11, "color": "#202020"},
      "encoding": {
        "text": {"field": "n"},
        "fontWeight": {"condition": {"test": "datum.act == 1", "value": "bold"}, "value": "normal"}
      }
    },
    {
      "data": {"name": "zone"},
      "mark": {"type": "area", "clip": true, "color": "#00ced1", "opacity": 1, "interpolate": "linear"},
      "encoding": {"y2": {"field": "p2"}}
    },
    {
      "data": {"name": "candles"},
      "mark": {"type": "rule", "color": "black", "strokeWidth": 1},
      "encoding": {
        "y": {
          "field": "l",
          "type": "quantitative",
          "title": null,
          "scale": {"domain": [1116.79, 1377.88], "nice": false, "zero": false},
          "axis": {
            "orient": "right",
            "values": [1117.46, 1127.03, 1136.6, 1146.17, 1155.74, 1165.31, 1174.88, 1184.45, 1194.02, 1203.88, 1213.45, 1223.02, 1232.59, 1242.16, 1251.73, 1261.3, 1270.87, 1280.44, 1290.3, 1299.87, 1309.44, 1319.01, 1328.58, 1338.15, 1347.72, 1357.29, 1366.86, 1376.72],
            "labelExpr": "format(datum.value, '.3f')",
            "grid": false,
            "domain": false,
            "tickSize": 3,
            "tickColor": "black",
            "labelAlign": "left",
            "labelBaseline": "middle",
            "labelPadding": 2,
            "labelFont": "Liberation Sans",
            "labelFontSize": 9.5,
            "labelColor": "black",
            "labelFlush": false,
            "labelOverlap": false,
            "labelBound": false
          }
        },
        "y2": {"field": "h"}
      }
    },
    {
      "data": {"name": "candles"},
      "mark": {"type": "bar", "size": 2, "stroke": "black", "strokeWidth": 1},
      "encoding": {
        "y": {
          "field": "o",
          "type": "quantitative",
          "title": null,
          "scale": {"domain": [1116.79, 1377.88], "nice": false, "zero": false},
          "axis": {
            "orient": "right",
            "values": [1117.46, 1127.03, 1136.6, 1146.17, 1155.74, 1165.31, 1174.88, 1184.45, 1194.02, 1203.88, 1213.45, 1223.02, 1232.59, 1242.16, 1251.73, 1261.3, 1270.87, 1280.44, 1290.3, 1299.87, 1309.44, 1319.01, 1328.58, 1338.15, 1347.72, 1357.29, 1366.86, 1376.72],
            "labelExpr": "format(datum.value, '.3f')",
            "grid": false,
            "domain": false,
            "tickSize": 3,
            "tickColor": "black",
            "labelAlign": "left",
            "labelBaseline": "middle",
            "labelPadding": 2,
            "labelFont": "Liberation Sans",
            "labelFontSize": 9.5,
            "labelColor": "black",
            "labelFlush": false,
            "labelOverlap": false,
            "labelBound": false
          }
        },
        "y2": {"field": "c"},
        "fill": {"condition": {"test": "datum.c >= datum.o", "value": "#32cd32"}, "value": "#ff0000"}
      }
    },
    {
      "data": {"name": "lines"},
      "transform": [{"filter": "datum.k == 'par'"}],
      "mark": {"type": "line", "clip": true, "color": "#00008b", "strokeWidth": 1, "strokeDash": [18, 9]},
      "encoding": {"detail": {"field": "id"}}
    },
    {
      "data": {"name": "lines"},
      "transform": [{"filter": "datum.k == 'chan'"}],
      "mark": {"type": "line", "clip": true, "color": "#00008b", "strokeWidth": 2},
      "encoding": {"detail": {"field": "id"}}
    },
    {
      "data": {"name": "lines"},
      "transform": [{"filter": "datum.k == 'fork'"}],
      "mark": {"type": "line", "clip": true, "color": "#ff0000", "strokeWidth": 2},
      "encoding": {"detail": {"field": "id"}}
    },
    {
      "data": {"name": "lines"},
      "transform": [{"filter": "datum.k == 'sl'"}],
      "mark": {"type": "line", "clip": true, "color": "#ff0000", "strokeWidth": 1, "strokeDash": [3, 3]},
      "encoding": {"detail": {"field": "id"}}
    },
    {
      "data": {"name": "lines"},
      "transform": [{"filter": "datum.k == 'mid'"}],
      "mark": {"type": "line", "clip": true, "color": "#000000", "strokeWidth": 1, "strokeDash": [2, 2]},
      "encoding": {"detail": {"field": "id"}}
    },
    {
      "data": {"name": "lines"},
      "transform": [{"filter": "datum.k == 'bid'"}],
      "mark": {"type": "line", "clip": true, "color": "#778899", "strokeWidth": 1},
      "encoding": {"detail": {"field": "id"}}
    },
    {
      "data": {"name": "lines"},
      "transform": [{"filter": "datum.k == 'res'"}],
      "mark": {"type": "line", "clip": true, "color": "#ff0000", "strokeWidth": 2},
      "encoding": {"detail": {"field": "id"}}
    },
    {
      "data": {"name": "lines"},
      "transform": [{"filter": "datum.k == 'fib'"}],
      "mark": {"type": "line", "clip": true, "color": "#000000", "strokeWidth": 2},
      "encoding": {"detail": {"field": "id"}}
    },
    {
      "data": {"name": "labels"},
      "mark": {"type": "text", "align": "left", "baseline": "alphabetic", "font": "Liberation Sans", "fontWeight": "bold", "fontSize": 27, "color": "#000000"},
      "encoding": {"text": {"field": "t"}}
    },
    {
      "data": {"name": "fiblabel"},
      "mark": {"type": "text", "align": "right", "baseline": "alphabetic", "font": "Liberation Sans", "fontSize": 9.5, "color": "#000000"},
      "encoding": {"text": {"field": "t"}}
    },
    {
      "data": {"name": "header"},
      "mark": {"type": "text", "align": "left", "baseline": "alphabetic", "font": "Liberation Sans", "fontSize": 9.5, "color": "#000000"},
      "encoding": {"text": {"field": "t"}}
    },
    {
      "data": {"name": "tagbox"},
      "mark": {"type": "rect"},
      "encoding": {
        "x2": {"field": "i2"},
        "y2": {"field": "p2"},
        "fill": {"field": "k", "type": "nominal", "scale": {"domain": ["res", "bid"], "range": ["#ff0000", "#000000"]}, "legend": null}
      }
    },
    {
      "data": {"name": "tagtext"},
      "mark": {"type": "text", "align": "left", "baseline": "middle", "font": "Liberation Sans", "fontSize": 9.5, "color": "#ffffff"},
      "encoding": {"text": {"field": "t"}}
    },
    {
      "data": {"name": "markers"},
      "mark": {"type": "point", "shape": "triangle-down", "filled": true, "size": 28, "opacity": 1},
      "encoding": {
        "color": {"field": "k", "type": "nominal", "scale": {"domain": ["menu", "shift"], "range": ["#000000", "#808080"]}, "legend": null}
      }
    }
  ]
}
